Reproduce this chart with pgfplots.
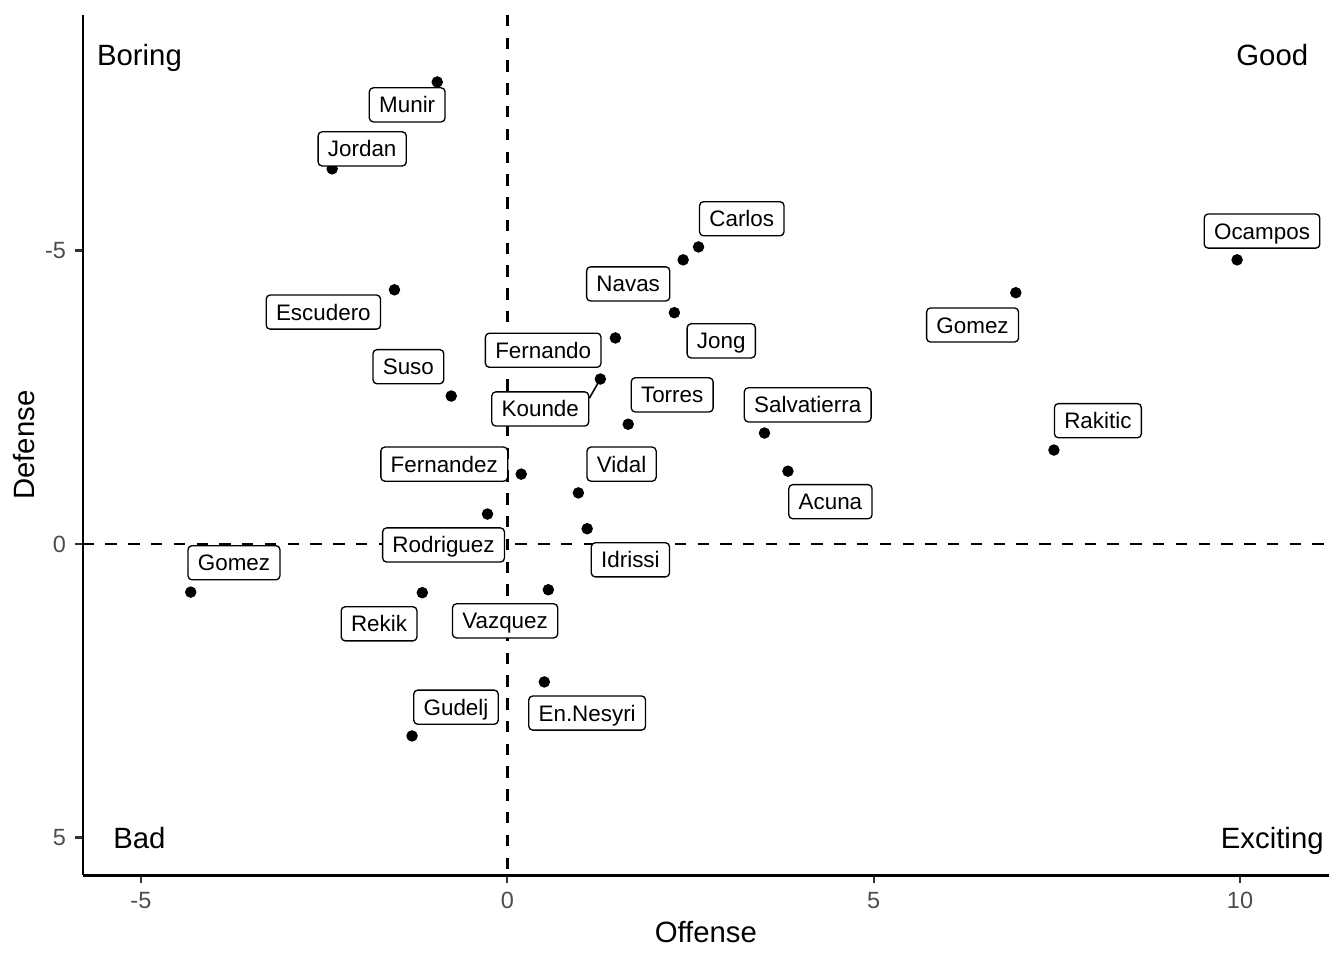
\documentclass[border=0pt]{standalone}
\usepackage{pgfplots}
\pgfplotsset{compat=1.18}
\usepackage{fontspec}
\setmainfont{Liberation Sans}
\tikzset{corner/.style={font=\fontsize{11bp}{13bp}\selectfont, text height=7.9bp, text depth=0pt, inner sep=0pt}}

\pgfplotstableread{
x      y      name
-0.956 -7.87  Munir
-2.39  -6.39  Jordan
-1.54  -4.33  Escudero
-0.765 -2.52  Suso
 0.19  -1.19  Fernandez
-0.27  -0.51  Rodriguez
-4.32   0.82  Gomez
-1.16   0.83  Rekik
 0.56   0.78  Vazquez
-1.30   3.27  Gudelj
 0.505  2.35  En.Nesyri
 1.09  -0.26  Idrissi
 0.97  -0.87  Vidal
 1.27  -2.81  Kounde
 1.475 -3.51  Fernando
 1.65  -2.04  Torres
 2.40  -4.84  Navas
 2.28  -3.94  Jong
 2.61  -5.06  Carlos
 3.51  -1.89  Salvatierra
 3.83  -1.24  Acuna
 6.94  -4.28  Gomez
 9.96  -4.84  Ocampos
 7.46  -1.60  Rakitic
}\players

\pgfplotstableread{
x      y      name
-1.366 -7.48  Munir
-1.98  -6.73  Jordan
-2.51  -3.95  Escudero
-1.35  -3.02  Suso
-0.86  -1.36  Fernandez
-0.87   0.017 Rodriguez
-3.73   0.32  Gomez
-1.75   1.36  Rekik
-0.03   1.31  Vazquez
-0.70   2.78  Gudelj
 1.09   2.88  En.Nesyri
 1.68   0.27  Idrissi
 1.56  -1.36  Vidal
 0.45  -2.30  Kounde
 0.49  -3.30  Fernando
 2.25  -2.54  Torres
 1.65  -4.43  Navas
 2.92  -3.46  Jong
 3.20  -5.54  Carlos
 4.10  -2.37  Salvatierra
 4.41  -0.72  Acuna
 6.35  -3.73  Gomez
10.30  -5.33  Ocampos
 8.06  -2.10  Rakitic
}\labels

\begin{document}
\begin{tikzpicture}
\useasboundingbox (0,0) rectangle (504bp,360bp);
\begin{axis}[
    at={(31.0bp,31.7bp)}, anchor=south west,
    scale only axis,
    width=467.4bp, height=322.7bp,
    xmin=-5.795, xmax=11.215,
    ymin=-9.012, ymax=5.647,
    y dir=reverse,
    axis x line*=bottom,
    axis y line*=left,
    axis line style={-, line width=0.8pt, black},
    xtick={-5,0,5,10}, xticklabels={-5,0,5,10},
    ytick={-5,0,5}, yticklabels={-5,0,5},
    tick align=outside,
    major tick length=2.75bp,
    tick style={line width=0.8pt, black!80},
    ticklabel style={font=\fontsize{8.8bp}{10bp}\selectfont, text=black!70},
    xlabel={Offense}, ylabel={Defense},
    label style={font=\fontsize{11bp}{13bp}\selectfont},
    xlabel style={yshift=2pt},
    ylabel style={yshift=-3pt},
    clip=false,
]
\addplot[black, line width=1bp, dash pattern=on 4.27bp off 4.27bp] coordinates {(0,-9.012) (0,5.647)};
\addplot[black, line width=1bp, dash pattern=on 4.27bp off 4.27bp] coordinates {(-5.795,0) (11.215,0)};
\addplot[black, line width=0.6pt] coordinates {(1.119,-2.482) (1.27,-2.81)};
\addplot[only marks, mark=*, mark size=1.95pt, black] table[x=x, y=y] {\players};
\addplot[only marks, mark=none,
    point meta=explicit symbolic,
    nodes near coords,
    every node near coord/.style={anchor=center, draw=black, line width=0.5pt,
        fill=white, rounded corners=1.5pt,
        font=\fontsize{8.4bp}{10bp}\selectfont,
        text height=6.0bp, text depth=0pt,
        inner xsep=3.7bp, inner ysep=3.4bp},
] table[x=x, y=y, meta=name] {\labels};
\node[corner] at (axis cs:-5.02,-8.33) {Boring};
\node[corner] at (axis cs:10.44,-8.33) {Good};
\node[corner] at (axis cs:-5.02,5.01) {Bad};
\node[corner] at (axis cs:10.44,5.01) {Exciting};
\end{axis}
\end{tikzpicture}
\end{document}
